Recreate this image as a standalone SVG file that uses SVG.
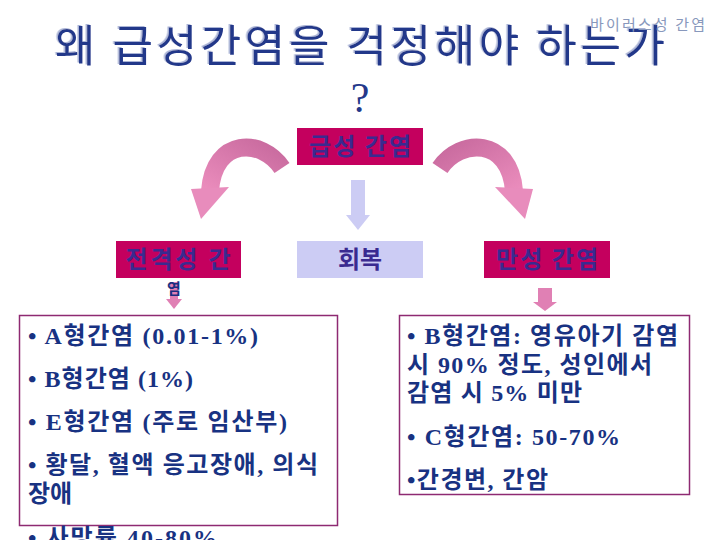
<svg xmlns="http://www.w3.org/2000/svg" width="720" height="540" viewBox="0 0 720 540">
<defs>
<linearGradient id="pinkL" x1="1" y1="0" x2="0" y2="1"><stop offset="0" stop-color="#c86a9e"/><stop offset="1" stop-color="#ea8cbc"/></linearGradient>
<linearGradient id="pinkR" x1="0" y1="0" x2="1" y2="1"><stop offset="0" stop-color="#c86a9e"/><stop offset="1" stop-color="#ea8cbc"/></linearGradient>
<filter id="shadow" x="-5%" y="-20%" width="110%" height="140%">
<feDropShadow dx="-1.5" dy="-1" stdDeviation="0" flood-color="#aab4d6"/>
</filter>
<style>
.title{font-family:"Noto Sans CJK KR","Noto Sans",sans-serif;font-size:44px;fill:#24388a;}
.lab{font-family:"Noto Sans CJK KR",sans-serif;font-size:24px;font-weight:bold;fill:#3a2a90;text-anchor:middle;}
.hot{fill:#c4005e;}
.soft{fill:#ccccf4;}
.body{font-family:"Liberation Serif","Noto Sans CJK KR",serif;font-size:24px;font-weight:bold;fill:#183282;}
.frame{fill:#ffffff;stroke:#8e2a72;stroke-width:1.5;}
.pk{fill:#e080b4;}
</style>
</defs>
<rect width="720" height="540" fill="#ffffff"/>
<g id="title">
<text class="title" x="55" y="62" textLength="610" lengthAdjust="spacing" filter="url(#shadow)">왜 급성간염을 걱정해야 하는가</text>
<text x="360" y="112" font-family="Liberation Serif,serif" font-size="42" fill="#24388a" text-anchor="middle">?</text>
<text x="590" y="30" font-family="Noto Sans CJK KR,sans-serif" font-size="15" fill="#8898bc" textLength="115" lengthAdjust="spacing">바이러스성 간염</text>
</g>
<g id="connectors">
<path d="M 282 168 C 262 138, 214 137, 210 191" fill="none" stroke="url(#pinkL)" stroke-width="18"/>
<polygon points="191,189 229,187 201,219" fill="#e88cbc"/>
<path d="M 440 168 C 460 138, 510 137, 514 191" fill="none" stroke="url(#pinkR)" stroke-width="18"/>
<polygon points="495,187 533,189 525,219" fill="#e88cbc"/>
<rect x="351" y="180" width="14" height="36" class="soft"/>
<polygon points="346,215 370,215 358,230" class="soft"/>
<rect x="170" y="282" width="8" height="18" class="pk"/>
<polygon points="166,299 182,299 174,309" class="pk"/>
<rect x="538" y="288" width="14" height="15" class="pk"/>
<polygon points="533,302 557,302 545,311" class="pk"/>
</g>
<g id="acute">
<rect x="297" y="128" width="126" height="37" class="hot"/>
<text class="lab" x="360" y="155" textLength="102" lengthAdjust="spacing">급성 간염</text>
</g>
<g id="recovery">
<rect x="297" y="241" width="126" height="37" class="soft"/>
<text class="lab" x="360" y="268">회복</text>
</g>
<g id="fulminant">
<rect x="116" y="241" width="125" height="37" class="hot"/>
<text class="lab" x="178" y="268" textLength="105" lengthAdjust="spacing">전격성 간</text>
<text x="174" y="294" font-family="Noto Sans CJK KR,sans-serif" font-size="15" font-weight="bold" fill="#1a2f80" text-anchor="middle">염</text>
</g>
<g id="chronic">
<rect x="484" y="241" width="126" height="37" class="hot"/>
<text class="lab" x="547" y="268" textLength="102" lengthAdjust="spacing">만성 간염</text>
</g>
<g id="left-box">
<rect x="19.5" y="315.5" width="318" height="210" class="frame"/>
<text class="body" x="28" y="344" textLength="230" lengthAdjust="spacing">• A형간염 (0.01-1%)</text>
<text class="body" x="28" y="387" textLength="165" lengthAdjust="spacing">• B형간염 (1%)</text>
<text class="body" x="28" y="430" textLength="259" lengthAdjust="spacing">• E형간염 (주로 임산부)</text>
<text class="body" x="28" y="473" textLength="290" lengthAdjust="spacing">• 황달, 혈액 응고장애, 의식</text>
<text class="body" x="28" y="502" textLength="44" lengthAdjust="spacing">장애</text>
<text class="body" x="28" y="546" textLength="189" lengthAdjust="spacing">• 사망률 40-80%</text>
</g>
<g id="right-box">
<rect x="399.5" y="315.5" width="290" height="179" class="frame"/>
<text class="body" x="407" y="344" textLength="271" lengthAdjust="spacing">• B형간염: 영유아기 감염</text>
<text class="body" x="407" y="373" textLength="245" lengthAdjust="spacing">시 90% 정도, 성인에서</text>
<text class="body" x="407" y="401" textLength="175" lengthAdjust="spacing">감염 시 5% 미만</text>
<text class="body" x="407" y="445" textLength="213" lengthAdjust="spacing">• C형간염: 50-70%</text>
<text class="body" x="407" y="488" textLength="141" lengthAdjust="spacing">•간경변, 간암</text>
</g>
</svg>
